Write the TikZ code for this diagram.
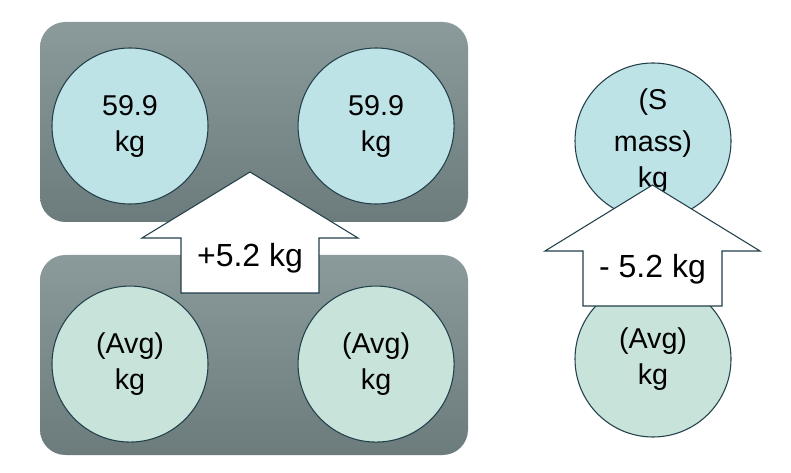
\documentclass[tikz,border=0pt]{standalone}
\usepackage{fontspec}
\setmainfont{Liberation Sans}
\usetikzlibrary{positioning}
\definecolor{platetop}{HTML}{8B9B9C}
\definecolor{platebot}{HTML}{6C7C7D}
\definecolor{discline}{HTML}{23404B}
\definecolor{heavyfill}{HTML}{BEE3E6}
\definecolor{avgfill}{HTML}{C8E3DA}
\tikzstyle{plate} = [rounded corners=19pt, top color=platetop, bottom color=platebot, draw=none]
\tikzstyle{disc} = [circle, draw=discline, line width=0.8pt, minimum size=117pt,
    inner sep=0pt, align=center, font=\fontsize{21.5}{27}\selectfont]
\tikzstyle{heavy} = [disc, fill=heavyfill]
\tikzstyle{avg} = [disc, fill=avgfill]
\tikzstyle{uparrow} = [draw=discline, fill=white, line width=0.8pt, line join=miter]
\tikzstyle{change} = [font=\fontsize{24}{28}\selectfont, anchor=base, inner sep=0pt]

\begin{document}
\begin{tikzpicture}[x=0.75pt,y=-0.75pt]
    \useasboundingbox (0,0) rectangle (791,473);
    % Place plates
    \path[plate] (40,22) rectangle (468,222);
    \path[plate] (40,255) rectangle (468,455);
    % Place discs
    \node[heavy] (tl) at (130,126) {59.9\\kg};
    \node[heavy, right=66.75pt of tl] (tr) {59.9\\kg};
    \node[avg, below=60.75pt of tl] (bl) {(Avg)\\kg};
    \node[avg, below=60.75pt of tr] (br) {(Avg)\\kg};
    \node[avg] (sb) at (653,359) {(Avg)\\kg};
    \node[heavy] (st) at (653,141) {\raisebox{4pt}{(S}\\mass)\\kg};
    % Draw arrows
    \draw[uparrow] (181,293) -- (181,238) -- (142,238) -- (250,172) -- (358,238)
        -- (319,238) -- (319,293) -- cycle;
    \node[change] (gain) at (250,267) {+5.2 kg};
    \draw[uparrow] (583,306) -- (583,251) -- (545,251) -- (652.5,185) -- (760,251)
        -- (722,251) -- (722,306) -- cycle;
    \node[change] (loss) at (652.5,278) {- 5.2 kg};
\end{tikzpicture}
\end{document}
